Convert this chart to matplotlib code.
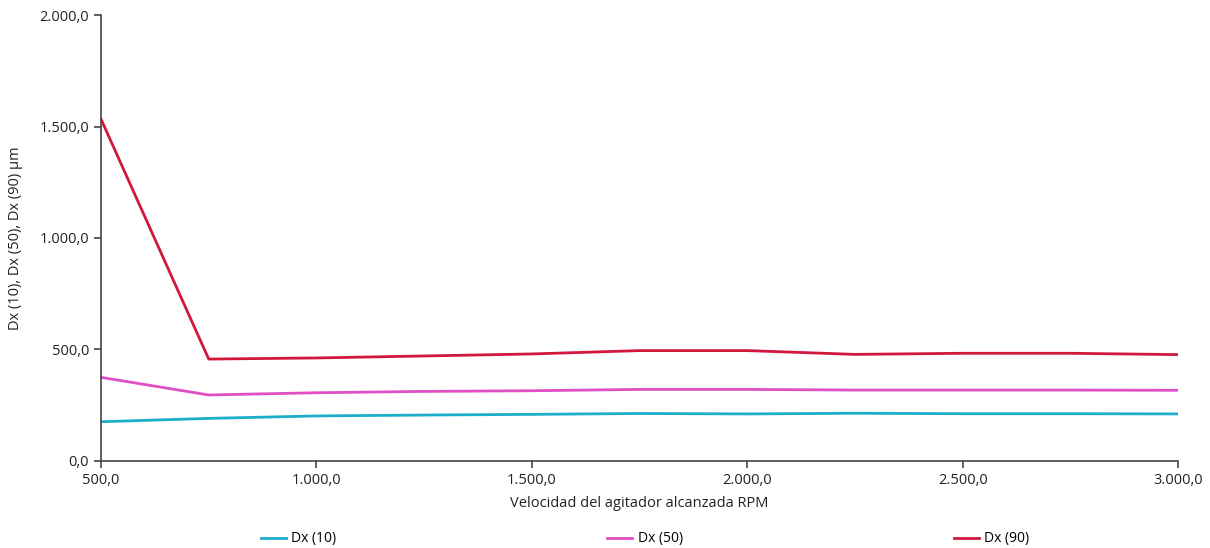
import matplotlib
matplotlib.use("Agg")
import matplotlib.pyplot as plt
from matplotlib.ticker import FuncFormatter, MultipleLocator

rpm = [500, 750, 1000, 1250, 1500, 1750, 2000, 2250, 2500, 2750, 3000]
dx10 = [176, 191, 202, 206, 209, 213, 211, 214, 212, 212, 211]
dx50 = [375, 296, 306, 312, 315, 321, 321, 318, 318, 318, 317]
dx90 = [1533, 457, 462, 471, 480, 495, 495, 478, 483, 483, 477]

series = [("Dx (10)", dx10, "#1aaecb"),
          ("Dx (50)", dx50, "#e04fc4"),
          ("Dx (90)", dx90, "#d2173f")]

plt.rcParams["font.family"] = ["Open Sans", "DejaVu Sans"]


def es_fmt(v, pos):
    s = f"{v:,.1f}"
    return s.replace(",", "X").replace(".", ",").replace("X", ".")


fig = plt.figure(figsize=(12.1, 5.48), dpi=100)
ax = fig.add_axes([0.0835, 0.1588, 0.8901, 0.8138])

handles = []
for name, vals, col in series:
    h, = ax.plot(rpm, vals, color=col, linewidth=2.0, label=name)
    handles.append(h)

ax.set_xlim(500, 3000)
ax.set_ylim(0, 2000)
ax.xaxis.set_major_locator(MultipleLocator(500))
ax.yaxis.set_major_locator(MultipleLocator(500))
ax.xaxis.set_major_formatter(FuncFormatter(es_fmt))
ax.yaxis.set_major_formatter(FuncFormatter(es_fmt))

for side in ["top", "right"]:
    ax.spines[side].set_visible(False)
for side in ["left", "bottom"]:
    ax.spines[side].set_color("#444444")
    ax.spines[side].set_linewidth(1.2)
ax.tick_params(colors="#444444", labelcolor="#222222", length=5, width=1.2,
               labelsize=10.5)

ax.set_xlabel("Velocidad del agitador alcanzada RPM", fontsize=10.5, color="#222222",
              labelpad=6)
ax.set_ylabel("Dx (10), Dx (50), Dx (90) µm", fontsize=10.5, color="#222222",
              labelpad=12)

fig.legend(handles=handles, loc="lower center", bbox_to_anchor=(0.533, -0.02),
           ncol=3, frameon=False, fontsize=10, handlelength=1.8,
           handletextpad=0.4, columnspacing=19.5)

fig.savefig("out.png", dpi=100)
